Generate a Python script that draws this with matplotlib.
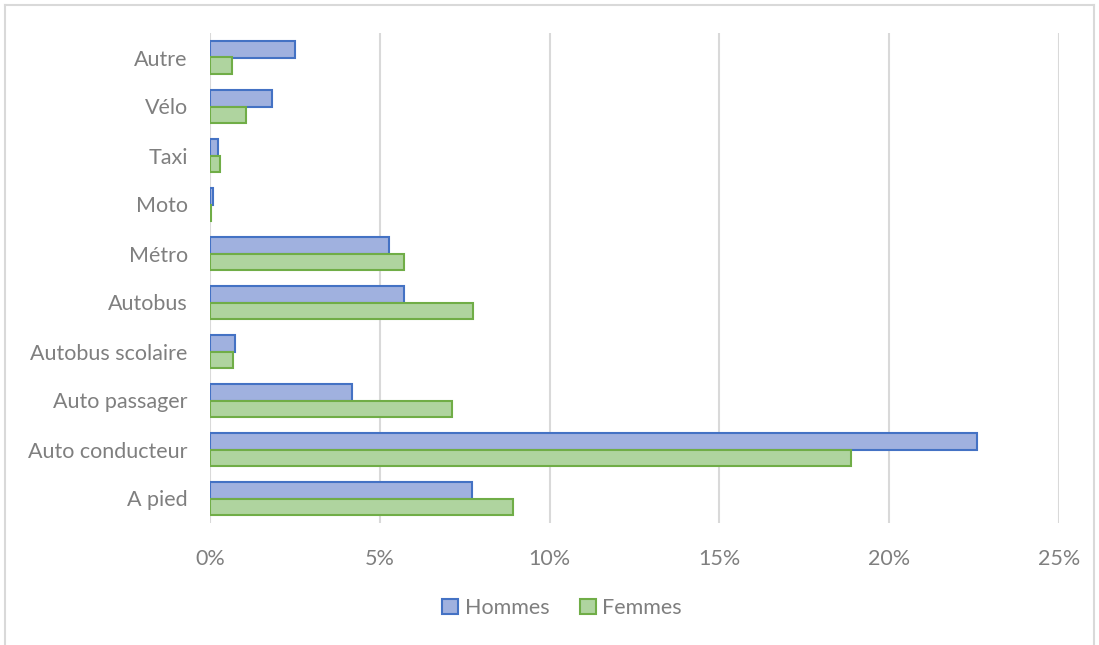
import matplotlib.pyplot as plt
from matplotlib.ticker import PercentFormatter
from matplotlib.lines import Line2D
import numpy as np

# Données
categories = ['A pied', 'Auto conducteur', 'Auto passager', 'Autobus scolaire',
              'Autobus', 'Métro', 'Moto', 'Taxi', 'Vélo', 'Autre']
hommes = [7.71, 22.58, 4.18, 0.74, 5.70, 5.26, 0.10, 0.23, 1.83, 2.49]
femmes = [8.92, 18.88, 7.13, 0.67, 7.74, 5.70, 0.03, 0.30, 1.07, 0.65]
xticks = [0, 5, 10, 15, 20, 25]

plt.rcParams['font.family'] = ['Lato', 'DejaVu Sans']
gris = '#7f7f7f'

fig = plt.figure(figsize=(10.99, 6.45), dpi=100)
ax = fig.add_axes([210 / 1099, 1 - 523 / 645, 849 / 1099, 490 / 645])

y = np.arange(len(categories))
h = 0.33
ax.barh(y + h / 2, hommes, height=h, color='#a0b1df', edgecolor='#4472c4',
        linewidth=1.5, label='Hommes', zorder=3)
ax.barh(y - h / 2, femmes, height=h, color='#afd49f', edgecolor='#70ad47',
        linewidth=1.5, label='Femmes', zorder=3)

ax.set_xlim(0, 25)
ax.set_ylim(-0.5, len(categories) - 0.5)
ax.set_xticks(xticks)
ax.xaxis.set_major_formatter(PercentFormatter(decimals=0))
ax.set_yticks(y)
ax.set_yticklabels(categories)
ax.tick_params(axis='both', length=0, labelsize=15.5, colors=gris)
ax.tick_params(axis='x', pad=19)
ax.tick_params(axis='y', pad=16)
ax.grid(axis='x', color='#d9d9d9', linewidth=1.5, zorder=0)
for s in ax.spines.values():
    s.set_visible(False)

# Légende
leg = fig.legend(loc='center', bbox_to_anchor=(562 / 1099, 1 - 608 / 645), ncol=2,
                 frameon=False, fontsize=15.5, handlelength=0.75, handleheight=0.75,
                 handletextpad=0.3, columnspacing=1.4)
for t in leg.get_texts():
    t.set_color(gris)

# Cadre du graphique
fig.add_artist(Line2D([5 / 1099, 5 / 1099], [0, 1 - 5 / 645], color='#d9d9d9', lw=1.5))
fig.add_artist(Line2D([5 / 1099, 1094 / 1099], [1 - 5 / 645, 1 - 5 / 645], color='#d9d9d9', lw=1.5))
fig.add_artist(Line2D([1094 / 1099, 1094 / 1099], [0, 1 - 5 / 645], color='#d9d9d9', lw=1.5))

fig.savefig('out.png', dpi=100)
